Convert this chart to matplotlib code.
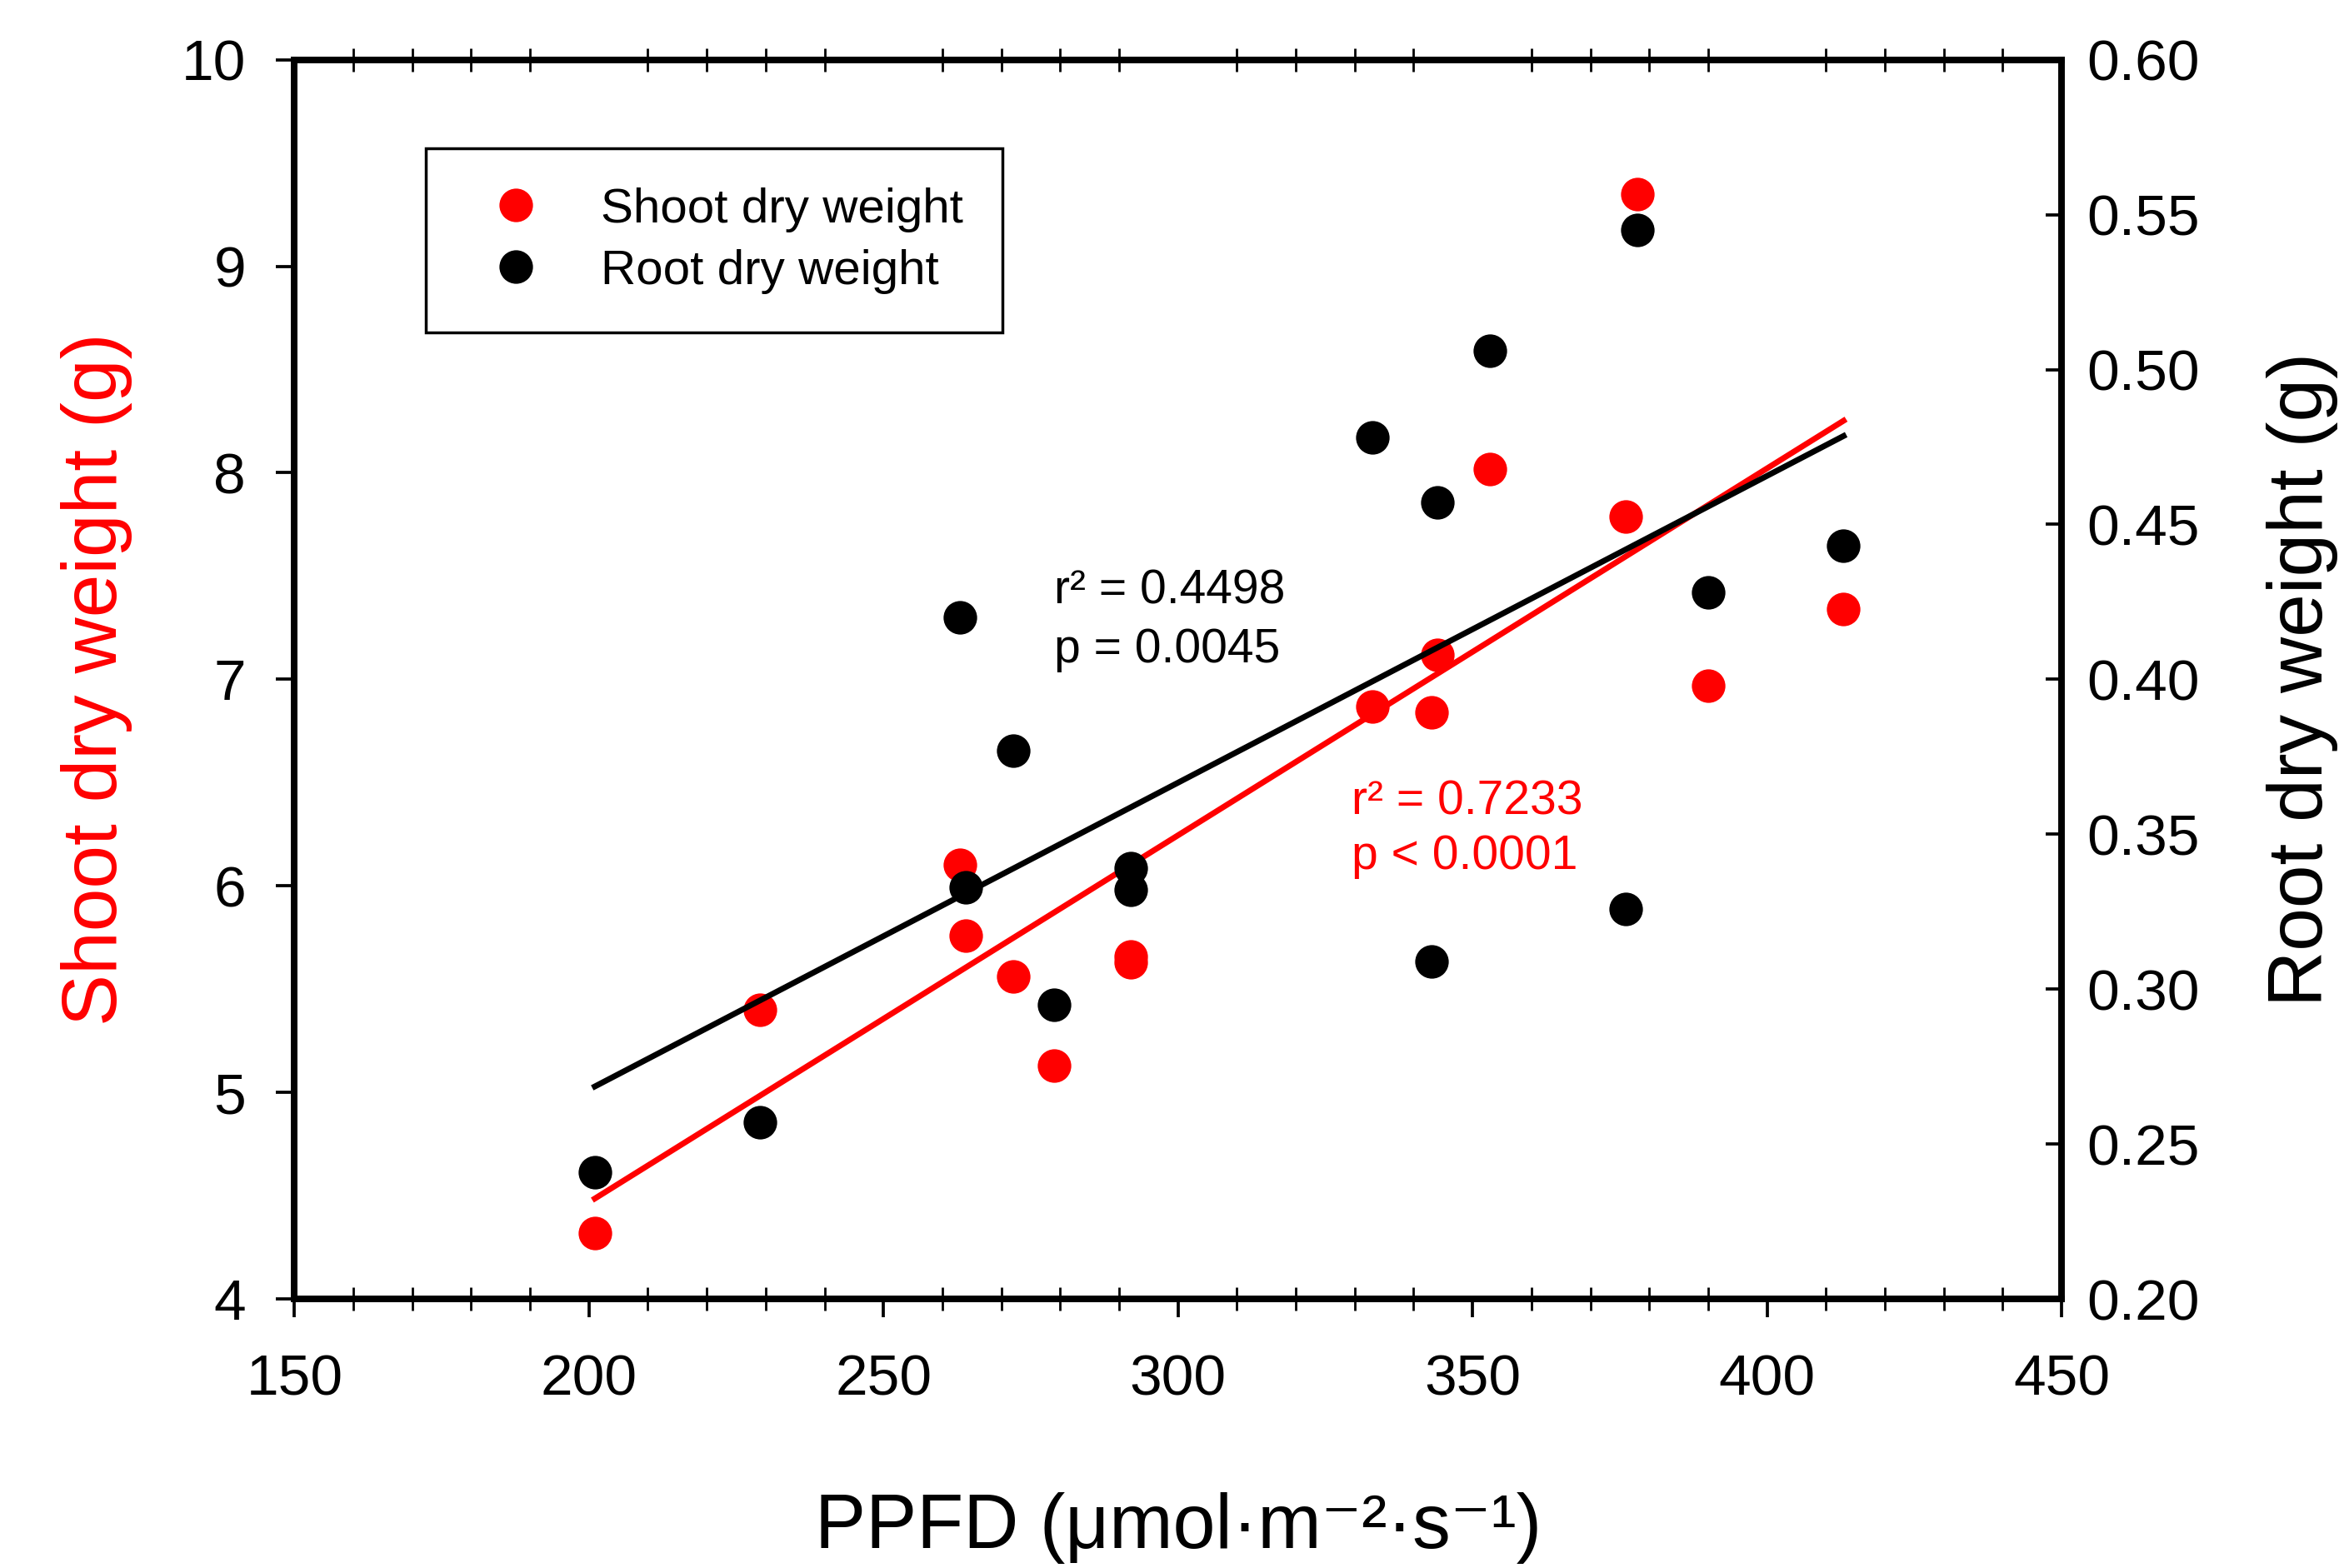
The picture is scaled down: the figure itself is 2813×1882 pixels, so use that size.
import numpy as np
import matplotlib
matplotlib.use("Agg")
import matplotlib.pyplot as plt
from matplotlib.ticker import MultipleLocator, FormatStrFormatter

plt.rcParams['font.family'] = ['Liberation Sans', 'DejaVu Sans']

# data
ppfd = np.array([201, 229, 263, 264, 272, 279, 292, 292, 333, 343, 344, 353, 376, 378, 390, 413])
shoot_dw = np.array([4.32, 5.40, 6.10, 5.76, 5.56, 5.13, 5.63, 5.66, 6.87, 6.84, 7.12, 8.02, 7.79, 9.35, 6.97, 7.34])
root_dw = np.array([0.241, 0.257, 0.420, 0.333, 0.377, 0.295, 0.339, 0.332, 0.478, 0.309, 0.457, 0.506, 0.326, 0.545, 0.428, 0.443])

shoot_stats = ["r\u00b2 = 0.7233", "p < 0.0001"]
root_stats = ["r\u00b2 = 0.4498", "p = 0.0045"]

RED = "#ff0000"

fig = plt.figure(figsize=(28.13, 18.82), dpi=100)
ax = fig.add_axes([0.1256, 0.1716, 0.7539, 0.7903])
ax2 = ax.twinx()

# shoot (left axis)
h1, = ax.plot(ppfd, shoot_dw, linestyle="none", marker="o", ms=29, mew=0, color=RED)
k, b = np.polyfit(ppfd, shoot_dw, 1)
xx = np.array([ppfd.min(), ppfd.max()])
ax.plot(xx, k * xx + b, color=RED, lw=5)

# root (right axis)
h2, = ax2.plot(ppfd, root_dw, linestyle="none", marker="o", ms=29, mew=0, color="black")
k2, b2 = np.polyfit(ppfd, root_dw, 1)
ax2.plot(xx, k2 * xx + b2, color="black", lw=5)

ax.set_xlim(150, 450)
ax.set_ylim(4, 10)
ax2.set_ylim(0.20, 0.60)

ax.xaxis.set_major_locator(MultipleLocator(50))
ax.xaxis.set_minor_locator(MultipleLocator(10))
ax.yaxis.set_major_locator(MultipleLocator(1))
ax2.yaxis.set_major_locator(MultipleLocator(0.05))
ax2.yaxis.set_major_formatter(FormatStrFormatter("%.2f"))

ax.tick_params(axis="x", which="major", direction="out", length=16, width=2.7,
               top=False, labelsize=50, pad=31)
ax.tick_params(axis="x", which="minor", direction="inout", length=20, width=2,
               top=True, bottom=True)
ax.tick_params(axis="y", which="major", direction="out", length=16, width=2.7,
               right=False, labelsize=50, pad=26)
ax2.tick_params(axis="y", which="major", direction="in", length=14, width=2.7,
                labelsize=50, pad=22)

for a in (ax, ax2):
    for s in a.spines.values():
        s.set_linewidth(5.5)

ax.set_xlabel("PPFD (\u03bcmol\u00b7m\u207b\u00b2\u00b7s\u207b\u00b9)", fontsize=66, va="center")
ax.xaxis.set_label_coords(0.5, -0.1846)
ax.set_ylabel("Shoot dry weight (g)", fontsize=67, color=RED, va="center")
ax.yaxis.set_label_coords(-0.1117, 0.5)
ax2.set_ylabel("Root dry weight (g)", fontsize=67, color="black", va="center")
ax2.yaxis.set_label_coords(1.1362, 0.5)

# regression stats
ax.text(278.9, 7.365, root_stats[0], fontsize=41, color="black")
ax.text(278.9, 7.083, root_stats[1], fontsize=41, color="black")
ax.text(329.4, 6.346, shoot_stats[0], fontsize=41, color=RED)
ax.text(329.4, 6.081, shoot_stats[1], fontsize=41, color=RED)

leg = ax2.legend([h1, h2], ["Shoot dry weight", "Root dry weight"],
                 loc="upper left", bbox_to_anchor=(0.1817, 0.9054),
                 bbox_transform=fig.transFigure, borderaxespad=0,
                 borderpad=0.8, handlelength=2.1, handletextpad=0.7,
                 labelspacing=0.34, fontsize=42, numpoints=1,
                 fancybox=False, framealpha=1, edgecolor="black")
leg.get_frame().set_linewidth(2.5)

fig.savefig("out.png", dpi=100)
